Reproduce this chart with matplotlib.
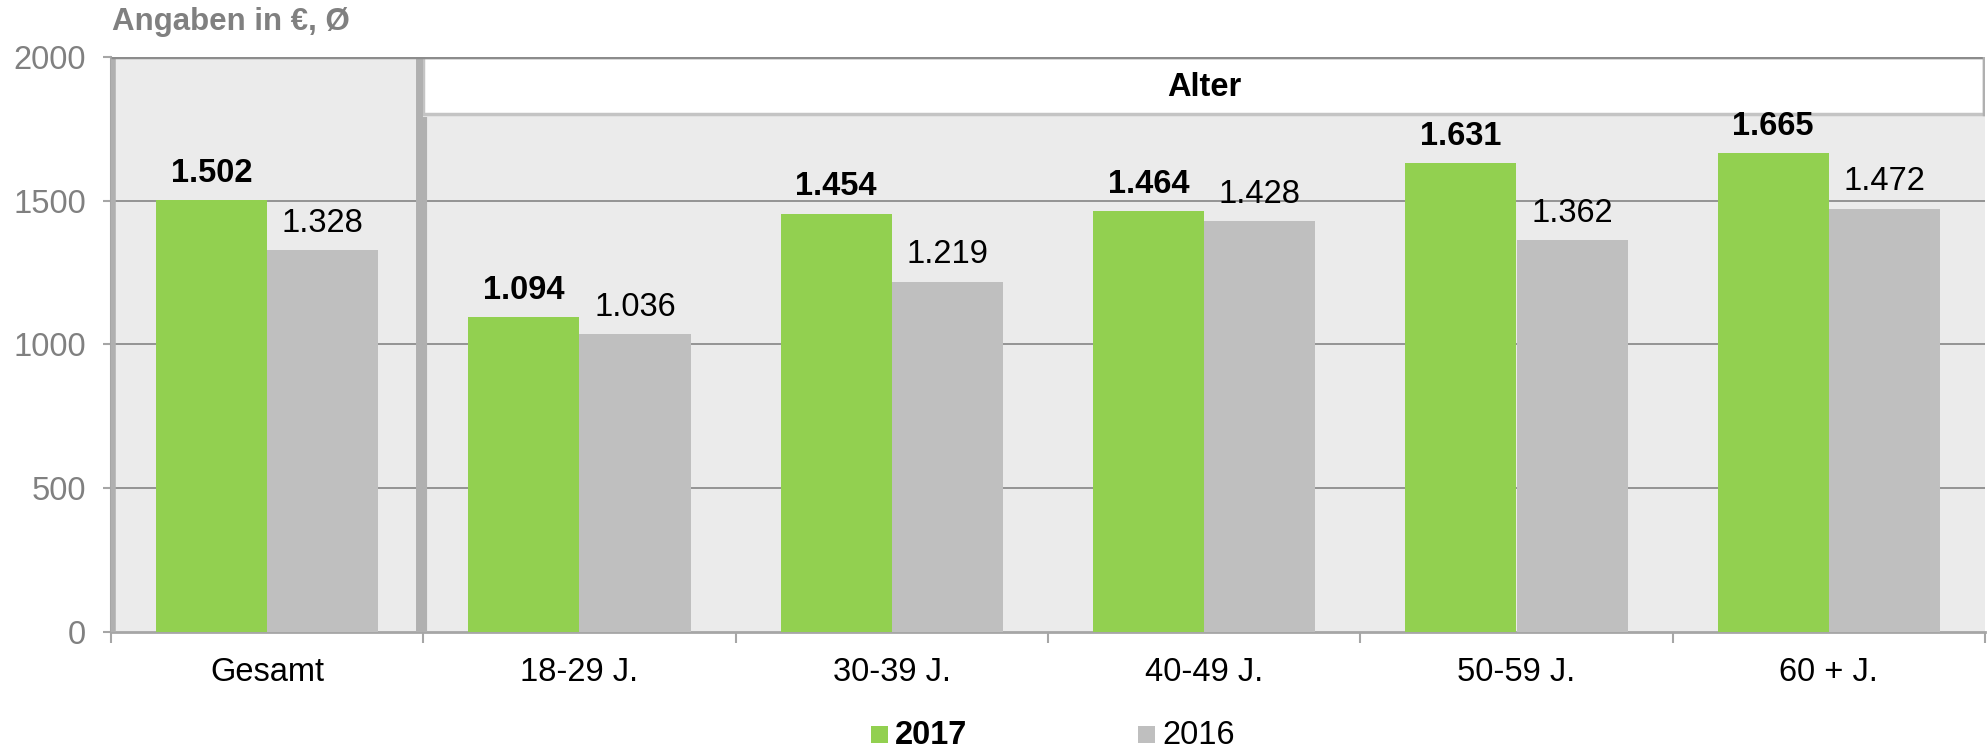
import matplotlib
matplotlib.use("Agg")
import matplotlib.pyplot as plt
from matplotlib.patches import Rectangle
import numpy as np

categories = ["Gesamt", "18-29 J.", "30-39 J.", "40-49 J.", "50-59 J.", "60 + J."]
values_2017 = [1502, 1094, 1454, 1464, 1631, 1665]
values_2016 = [1328, 1036, 1219, 1428, 1362, 1472]
series_names = ["2017", "2016"]
yticks = [0, 500, 1000, 1500, 2000]
title_text = "Angaben in €, Ø"
group_text = "Alter"

def fmt(v):
    return f"{v:,}".replace(",", ".")

plt.rcParams['font.family'] = ['Liberation Sans', 'DejaVu Sans']

GREEN = "#92D050"
GRAY = "#BFBFBF"
BG = "#EBEBEB"
FS = 23.5

fig = plt.figure(figsize=(19.88, 7.5), dpi=100)
ax = fig.add_axes([111/1988, 1-632/750, (1985-111)/1988, (632-57)/750])

n = len(categories)
x = np.arange(n)
w = 0.356

ax.set_xlim(-0.5, n-0.5)
ax.set_ylim(0, 2000)

# backgrounds
ax.add_patch(Rectangle((-0.5, 0), 1.0, 2000, facecolor=BG, edgecolor="none", zorder=0))
ax.add_patch(Rectangle((0.5, 0), n-1, 1800, facecolor=BG, edgecolor="none", zorder=0))
# Alter header box
ax.add_patch(Rectangle((0.5, 1800), n-1-0.003, 200, facecolor="white", edgecolor="#C4C4C4",
                       linewidth=2.5, zorder=1))
ax.text((0.5+n-0.5)/2, 1895, group_text, ha="center", va="center", fontsize=FS,
        fontweight="bold", color="black", zorder=5)

# gridlines
for yv in yticks[1:-1]:
    ax.plot([-0.5, n-0.5], [yv, yv], color="#8C8C8C", lw=1.3, zorder=1)

# bars
ax.bar(x - w/2, values_2017, width=w, color=GREEN, zorder=3, label=series_names[0])
ax.bar(x + w/2, values_2016, width=w, color=GRAY, zorder=3, label=series_names[1])

for xi, v in zip(x, values_2017):
    ax.text(xi - w/2, v + 40, fmt(v), ha="center", va="bottom", fontsize=FS,
            fontweight="bold", color="black", zorder=5)
for xi, v in zip(x, values_2016):
    ax.text(xi + w/2, v + 40, fmt(v), ha="center", va="bottom", fontsize=FS,
            color="black", zorder=5)

# panel borders
ax.plot([-0.5+0.006, -0.5+0.006], [0, 2000], color="#B0B0B0", lw=4, zorder=4, solid_capstyle="butt")
ax.plot([0.487, 0.487], [0, 2000], color="#B0B0B0", lw=5, zorder=4, solid_capstyle="butt")
ax.plot([0.505, 0.505], [0, 1790], color="#B0B0B0", lw=3, zorder=4, solid_capstyle="butt")
ax.plot([-0.5, n-0.5], [2000, 2000], color="#8C8C8C", lw=2.5, zorder=4, solid_capstyle="butt")
ax.plot([n-0.5-0.004, n-0.5-0.004], [1800, 2000], color="#B0B0B0", lw=2.5, zorder=4)

# spines
for s in ["top", "right"]:
    ax.spines[s].set_visible(False)
ax.spines["left"].set_color("#A6A6A6")
ax.spines["left"].set_linewidth(1.5)
ax.spines["bottom"].set_color("#A6A6A6")
ax.spines["bottom"].set_linewidth(2)

ax.set_yticks(yticks)
ax.set_yticklabels([str(t) for t in yticks], fontsize=FS, color="#808080")
ax.tick_params(axis="y", length=6, width=1.5, color="#A6A6A6", pad=12)

ax.set_xticks(np.arange(-0.5, n, 1.0))
ax.set_xticklabels([])
ax.tick_params(axis="x", length=8, width=1.5, color="#A6A6A6")
for xi, c in zip(x, categories):
    ax.text(xi, -140, c, ha="center", va="center", fontsize=FS, color="black")

fig.text(112/1988, 1-22/750, title_text, ha="left", va="center", fontsize=22.5,
         fontweight="bold", color="#808080")

# legend (manual placement)
handles, labels = ax.get_legend_handles_labels()
sq_x = [871, 1138]
for i, (h, lab) in enumerate(zip(handles, labels)):
    col = h.patches[0].get_facecolor()
    fig.patches.append(Rectangle((sq_x[i]/1988, 1-743/750), 17/1988, 17/750,
                                 transform=fig.transFigure, facecolor=col, edgecolor="none"))
    fig.text((sq_x[i]+24)/1988, 1-735/750, lab, ha="left", va="center", fontsize=FS,
             fontweight="bold" if i == 0 else "normal", color="black")

fig.savefig("out.png", dpi=100)
